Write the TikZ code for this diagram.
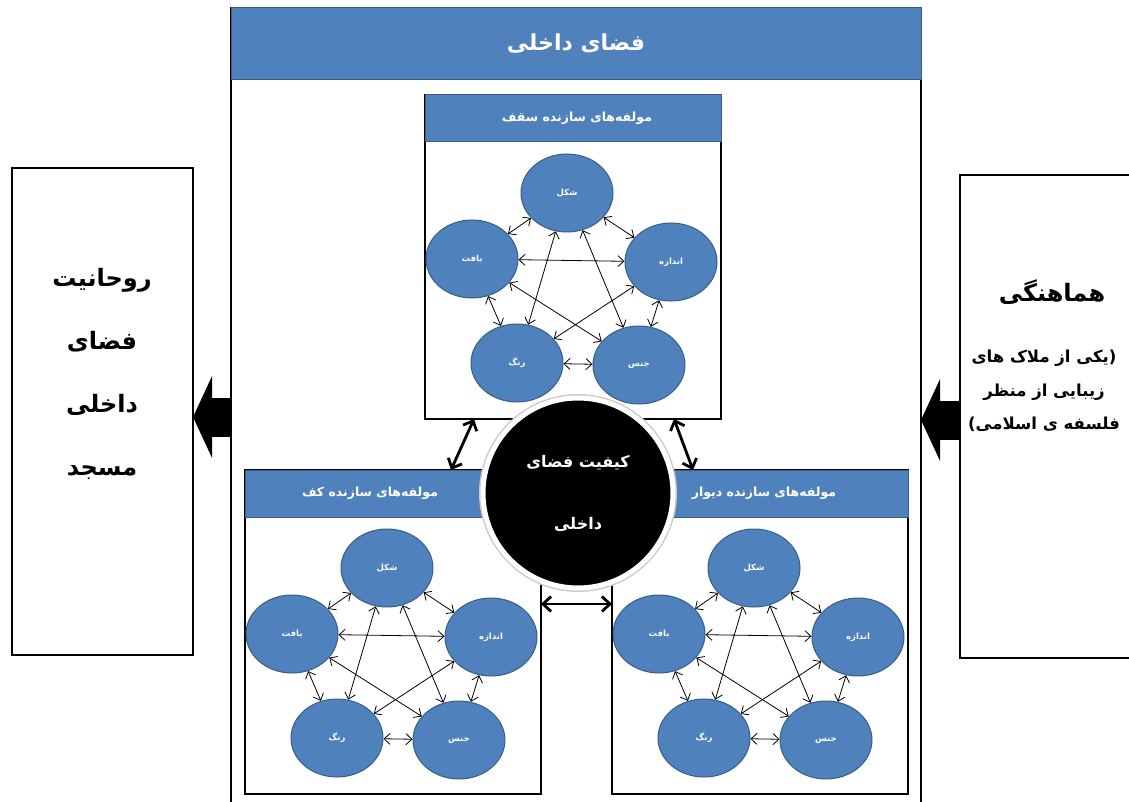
\documentclass[tikz,border=0pt]{standalone}
\usepackage{fontspec}
\usetikzlibrary{shapes.geometric,arrows.meta,positioning}
\TeXXeTstate=1
\newfontfamily\fa[Script=Arabic]{DejaVu Sans}
\definecolor{barblue}{HTML}{4F81BD}
\definecolor{barline}{HTML}{385D8A}
\tikzset{frame/.style = {draw, line width=2.5pt, inner sep=0pt, outer sep=0pt, anchor=north west}}
\tikzset{bar/.style = {fill=barblue, draw=barline, line width=1pt, inner sep=0pt, outer sep=0pt, anchor=north west}}
\tikzset{bartext/.style = {text=white, font=\fa\bfseries\fontsize{12.5}{14}\selectfont}}
\tikzset{panelbox/.style = {draw, line width=2pt, minimum width=296pt, minimum height=324pt, inner sep=0pt, outer sep=0pt, anchor=north west}}
\tikzset{part/.style = {shape=ellipse, fill=barblue, draw=barline, line width=1pt, minimum width=92pt, minimum height=78pt, inner sep=0pt, text=white, font=\fa\bfseries\fontsize{8.5}{10}\selectfont}}
\tikzset{link/.style = {<->, >={Straight Barb[length=6pt,width=11pt]}, line width=0.8pt}}
\tikzset{biglink/.style = {<->, >={Straight Barb[length=8pt,width=15pt]}, line width=2.8pt}}
\tikzset{fat/.style = {-{Triangle[length=19pt,width=81pt]}, line width=39pt}}
\tikzset{core/.style = {shape=circle, fill=black, draw=white, line width=5pt, minimum size=190pt, inner sep=0pt, text=white, preaction={draw=black!20, line width=8pt}}}

\begin{document}
\begin{tikzpicture}[x=1pt,y=-1pt]
  \useasboundingbox (0,0) rectangle (1129,802);

  % Frame
  \node[frame, minimum width=690pt, minimum height=800pt] (frame) at (231,8) {};
  \node[bar, minimum width=690pt, minimum height=72pt, text=white,
        font=\fa\bfseries\fontsize{22}{26}\selectfont] (frame-bar) at (231,8) {\beginR فضای داخلی\endR};

  % Side boxes
  \node[frame, minimum width=181pt, minimum height=487pt] (spirit) at (12,168) {};
  \node[align=center, font=\fa\bfseries\fontsize{24}{63}\selectfont] (spirit-text) at (102,374)
    {\beginR روحانیت\endR\\ \beginR فضای\endR\\ \beginR داخلی\endR\\ \beginR مسجد\endR};
  \node[frame, minimum width=180pt, minimum height=483pt] (harmony) at (960,175) {};
  \node[font=\fa\bfseries\fontsize{24}{28}\selectfont] (harmony-title) at (1052,292) {\beginR هماهنگی\endR};
  \node[align=center, font=\fa\bfseries\fontsize{16.5}{33.5}\selectfont] (harmony-text) at (1044,391)
    {\beginR (یکی از ملاک های\endR\\ \beginR زیبایی از منظر\endR\\ \beginR فلسفه ی اسلامی)\endR};

  % Panels
  \foreach \p/\x/\y/\ttl/\tx in {ceil/425/95/سقف/152, floor/245/470/کف/125, wall/612/470/دیوار/152}
  {
    \begin{scope}[shift={(\x,\y)}]
      \node[panelbox] (\p-box) at (0,0) {};
      \node[bar, minimum width=296pt, minimum height=47pt] (\p-bar) at (0,0) {};
      \node[bartext] (\p-title) at (\tx,23) {\beginR مولفه‌های سازنده \ttl\endR};

      % Vertices
      \node[part] (\p-form) at (142,98) {شکل};
      \node[part] (\p-texture) at (47,164) {بافت};
      \node[part] (\p-size) at (246,167) {اندازه};
      \node[part] (\p-colour) at (92,268) {رنگ};
      \node[part] (\p-material) at (214,270) {جنس};

      % Edges
      \draw[link] (\p-form) -- (\p-texture);
      \draw[link] (\p-form) -- (\p-size);
      \draw[link] (\p-texture) -- (\p-colour);
      \draw[link] (\p-size) -- (\p-material);
      \draw[link] (\p-colour) -- (\p-material);
      \draw[link] (\p-form) -- (\p-colour);
      \draw[link] (\p-form) -- (\p-material);
      \draw[link] (\p-texture) -- (\p-size);
      \draw[link] (\p-texture) -- (\p-material);
      \draw[link] (\p-size) -- (\p-colour);
    \end{scope}
  }

  % Centre
  \node[core, align=center, font=\fa\bfseries\fontsize{16}{62}\selectfont] (quality) at (578,493)
    {\beginR کیفیت فضای\endR\\ \beginR داخلی\endR};

  % Links between panels
  \draw[biglink] ([xshift=-99pt]ceil-box.south) -- ([xshift=58pt]floor-box.north);
  \draw[biglink] ([xshift=101pt]ceil-box.south) -- ([xshift=-67pt]wall-box.north);
  \draw[biglink] ([yshift=28pt]floor-box.east) -- ([yshift=28pt]wall-box.west);

  % Fat arrows
  \draw[fat] ([yshift=-9pt]frame.west) -- ([yshift=-5.5pt]spirit.east);
  \draw[fat] ([yshift=-3.5pt]harmony.west) -- ([yshift=-12pt]frame.east);
\end{tikzpicture}
\end{document}
